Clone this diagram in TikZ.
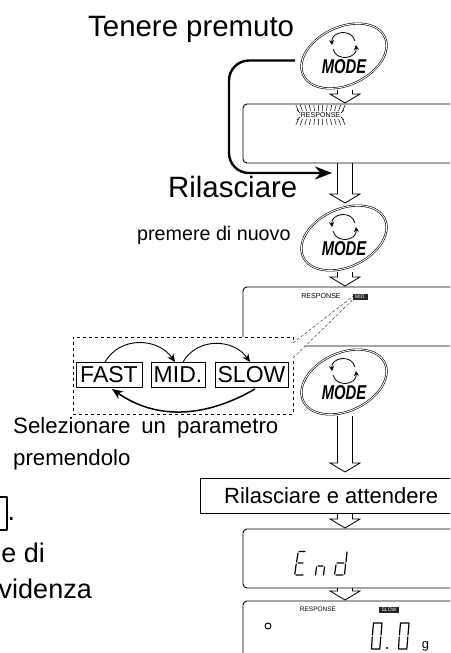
\documentclass[tikz,border=0pt]{standalone}
\usepackage{fontspec}
\setmainfont{Liberation Sans}
\usetikzlibrary{shapes.geometric,arrows.meta,calc,backgrounds}
\newcommand{\fs}[1]{\fontsize{#1}{#1}\selectfont}
\def\shaftx{345}
\tikzset{
	disp/.style={draw,fill=white,line width=0.9pt,rounded corners=4pt,anchor=north west,inner sep=0pt,outer sep=0pt,minimum width=230pt},
	keyring/.style={ellipse,draw,double,double distance=0.9pt,line width=0.6pt,fill=white,minimum width=90pt,minimum height=58pt,inner sep=0pt,rotate=25},
	keyframe/.style={inner sep=0pt,outer sep=0pt,minimum width=88pt,minimum height=68pt},
	keyarc/.style={line width=0.8pt,-{Stealth[length=5pt,width=5pt]}},
	parambox/.style={draw,line width=0.9pt,font=\fs{23},inner sep=0pt,outer sep=0pt,minimum height=25pt},
	pickarc/.style={line width=0.9pt,-{Stealth[length=8pt,width=7pt]}},
	badge/.style={fill=black!85,text=white,font=\fs{5},inner sep=0pt,minimum height=6pt},
	resp/.style={font=\fs{7.1}},
	lcd/.style={line width=1.2pt,line cap=round},
	hollow/.style={draw,fill=white,line width=0.8pt,to path={let \p1=(\tikztostart),\p2=(\tikztotarget) in
		(\shaftx pt-7.5pt,\y1) -- (\shaftx pt-7.5pt,\y2+10pt) -- (\shaftx pt-15pt,\y2+10pt) -- (\shaftx pt,\y2+1pt)
		-- (\shaftx pt+15pt,\y2+10pt) -- (\shaftx pt+7.5pt,\y2+10pt) -- (\shaftx pt+7.5pt,\y1)}}
}
\newcommand{\modekey}[3]{
	\node[keyring] (#1ring) at (#2,#3) {};
	\node[keyframe] (#1) at (#2,#3) {};
	\node[inner sep=0pt,font=\fs{20}\bfseries\itshape] (#1text) at (#2,#3+11) {\scalebox{0.74}[1]{MODE}};
	\draw[keyarc] (#2+11,#3-15) to[bend right=85,looseness=1.5] (#2-12,#3-11);
	\draw[keyarc] (#2-11,#3-7) to[bend right=85,looseness=1.5] (#2+12,#3-11);
}
\newcommand{\lcdzero}[2]{
	\draw[lcd] (#1+2.5,#2+1) -- (#1+11,#2+1) -- (#1+10,#2+13) (#1+9.8,#2+15) -- (#1+8.8,#2+27) -- (#1+0.5,#2+27) -- (#1+1.2,#2+15) (#1+1.4,#2+13) -- (#1+2.5,#2+1);
}
\begin{document}
\begin{tikzpicture}[x=1pt,y=-1pt,line join=round]
	\clip (0,0) rectangle (450,653);
	\node[disp,minimum height=59pt] (dispA) at (243,104) {};
	\node[disp,minimum height=59pt] (dispB) at (243,287) {};
	\node[draw,fill=white,line width=0.9pt,anchor=north west,inner sep=0pt,outer sep=0pt,minimum width=260pt,minimum height=35pt] (relbox) at (200,478) {};
	\node[disp,minimum height=59pt] (dispEnd) at (243,529) {};
	\node[disp,minimum height=80pt] (dispLast) at (243,601) {};
	\node[draw,fill=white,dashed,line width=0.8pt,anchor=north west,inner sep=0pt,outer sep=0pt,minimum width=220pt,minimum height=77pt] (pick) at (73,337) {};
	\modekey{btnA}{344}{56}
	\modekey{btnB}{344}{238}
	\modekey{btnC}{344}{382}
	\begin{scope}[on background layer]
		\draw[hollow] (btnA.south) to (dispA.north);
		\draw[hollow] (dispA.south) to (btnB.north);
		\draw[hollow] (btnB.south) to (dispB.north);
		\draw[hollow] (btnC.south) to ([yshift=5pt]relbox.north);
		\draw[hollow] (relbox.south) to (dispEnd.north);
		\draw[hollow] (dispEnd.south) to (dispLast.north);
	\end{scope}
	% testi
	\node[anchor=base west,inner sep=0pt,font=\fs{29.4}] (hold) at (88,36) {Tenere premuto};
	\node[anchor=base west,inner sep=0pt,font=\fs{29.4}] (release) at (168,197) {Rilasciare};
	\node[anchor=base west,inner sep=0pt,font=\fs{19.7}] (again) at (137,240) {premere di nuovo};
	\node[anchor=base west,inner sep=0pt,font=\fs{22.2}] (sel) at (13,433) {Selezionare\hspace{11pt}un\hspace{11pt}parametro};
	\node[anchor=base west,inner sep=0pt,font=\fs{22.2}] (selb) at (13,465) {premendolo};
	\node[anchor=base west,inner sep=0pt,font=\fs{22}] (wait) at (224,503) {Rilasciare e attendere};
	\node[anchor=base west,inner sep=0pt,font=\fs{27}] (dot) at (7.5,520) {.};
	\node[anchor=base east,inner sep=0pt,font=\fs{27}] (cuta) at (45,562) {e di};
	\node[anchor=base east,inner sep=0pt,font=\fs{27}] (cutb) at (92,598) {videnza};
	\draw[line width=1.1pt] (-2,497) -- (7,497) -- (7,530) -- (-2,530);
	% percorso
	\coordinate (relArrow) at (332,173);
	\draw[line width=2.4pt,rounded corners=20pt,-{Stealth[length=17pt,width=13pt]}] ([xshift=-5pt,yshift=-4.5pt]btnA.west) -- (229,60.5) -- (229,173) -- (relArrow);
	% display
	\node[resp] (respA) at (320.5,115) {RESPONSE};
	\foreach \i in {-22,-18,...,22} {
		\draw[line width=0.5pt] (320.5+\i,111) -- (320.5+1.12*\i,105);
		\draw[line width=0.5pt] (320.5+\i,119) -- (320.5+1.12*\i,125);
	}
	\draw[line width=0.5pt] (297,110) -- (300,113) (297,120) -- (300,117) (344,110) -- (341,113) (344,120) -- (341,117);
	\node[resp] (respB) at (321,296) {RESPONSE};
	\node[badge,minimum width=15pt] (badgeMid) at (360.5,296.5) {MID.};
	\coordinate (dashTop) at (293,343);
	\coordinate (dashLow) at (293,358);
	\fill[white] (dashTop) -- (352,297) -- (352,300) -- (dashLow) -- cycle;
	\draw[densely dashed,line width=0.5pt,black!75] (dashTop) -- (badgeMid.west);
	\draw[densely dashed,line width=0.5pt,black!75] (dashLow) -- (badgeMid.south west);
	\node[parambox,minimum width=66pt] (fast) at (109,374.5) {FAST};
	\node[parambox,minimum width=54pt] (mid) at (178,374.5) {MID.};
	\node[parambox,minimum width=73pt] (slow) at (251.5,374.5) {SLOW};
	\draw[pickarc] ([xshift=-4pt]fast.north) to[out=60,in=125,looseness=1.1] ([xshift=-3pt]mid.north);
	\draw[pickarc] ([xshift=5pt]mid.north) to[out=60,in=125,looseness=1.1] ([xshift=-1.5pt]slow.north);
	\draw[pickarc,line width=1.5pt,-{Stealth[length=11pt,width=9pt]}] ([xshift=3.5pt,yshift=-2pt]slow.south) to[out=210,in=-35] ([xshift=3pt,yshift=-2pt]fast.south);
	% End
	\draw[lcd] (298,553) -- (296.6,562) (296.2,564) -- (294.8,574) (299,551.5) -- (305,551.5) (298,563) -- (303,563) (296,575) -- (303,575);
	\draw[lcd] (316.5,567) -- (315.5,575) (318,566) -- (323,566) (324.5,567) -- (323.5,575);
	\draw[lcd] (347,552) -- (346,562) (345.6,564) -- (344.6,574) (337,563) -- (344,563) (336,565) -- (334.6,574) (336,575) -- (343,575);
	% ultimo display
	\node[resp,font=\fs{6.5}] (respC) at (318,609) {RESPONSE};
	\node[badge,minimum width=20pt] (badgeSlow) at (389,609.5) {SLOW};
	\draw[line width=1pt] (268,626) circle (3);
	\lcdzero{371}{622}
	\lcdzero{398}{622}
	\fill (387,648) circle (1.2);
	\node[anchor=base,inner sep=0pt,font=\fs{13}] (unit) at (425.5,648) {g};
\end{tikzpicture}
\end{document}
